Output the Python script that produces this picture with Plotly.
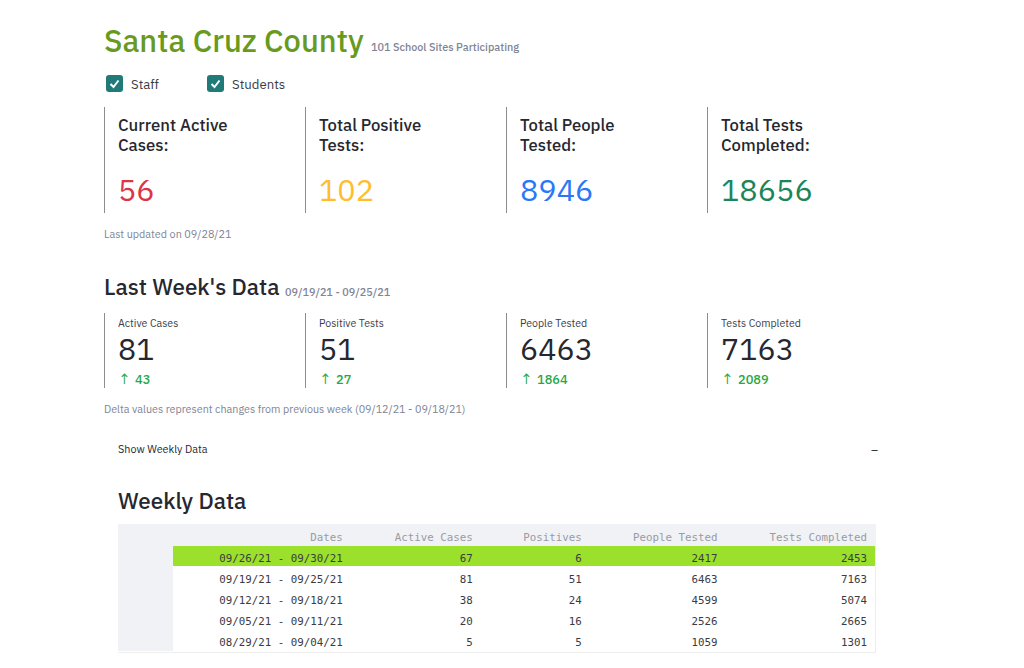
import plotly.graph_objects as go

W, H = 1024, 668

# --- data ---
title = "Santa Cruz County"
subtitle = "101 School Sites Participating"
filters = ["Staff", "Students"]
total_labels = [["Current Active", "Cases:"], ["Total Positive", "Tests:"], ["Total People", "Tested:"], ["Total Tests", "Completed:"]]
total_values = ["56", "102", "8946", "18656"]
total_colors = ["#dc3545", "#ffbd2e", "#2b78f6", "#1c8558"]
week_labels = ["Active Cases", "Positive Tests", "People Tested", "Tests Completed"]
week_values = ["81", "51", "6463", "7163"]
week_deltas = ["43", "27", "1864", "2089"]

table_header = ["", "Dates", "Active Cases", "Positives", "People Tested", "Tests Completed"]
dates = ["09/26/21 - 09/30/21", "09/19/21 - 09/25/21", "09/12/21 - 09/18/21", "09/05/21 - 09/11/21", "08/29/21 - 09/04/21"]
active_cases = [67, 81, 38, 20, 5]
positives = [6, 51, 24, 16, 5]
people_tested = [2417, 6463, 4599, 2526, 1059]
tests_completed = [2453, 7163, 5074, 2665, 1301]

SANS = "IBM Plex Sans, Noto Sans, sans-serif"
MONO = "DejaVu Sans Mono, monospace"
INK = "#262730"
MUTED = "#808495"
column_x = [104.5, 305.5, 506.5, 707.5]

fig = go.Figure()
row_fill = ["#9be02a", "#ffffff", "#ffffff", "#ffffff", "#ffffff"]
index_fill = ["#f0f2f6"] * 5
fig.add_trace(go.Table(
    domain=dict(x=[118 / W, 875.5 / W], y=[1 - 652 / H, 1 - 524.5 / H]),
    columnwidth=[56, 177, 130, 109, 136, 149.5],
    header=dict(values=table_header, align="right", height=21, fill_color="#f0f2f6",
                line_color="#f0f2f6", font=dict(family=MONO, size=10.8, color="#9a9aa3")),
    cells=dict(values=[[""] * 5, dates, active_cases, positives, people_tested, tests_completed],
               align="right", height=21,
               fill_color=[index_fill] + [row_fill] * 5,
               line_color=[index_fill] + [row_fill] * 5,
               font=dict(family=MONO, size=10.8, color="#3a3b45")),
))

def text(x, y, s, size, color, anchor="left", weight=None, family=SANS):
    fig.add_annotation(xref="paper", yref="paper", x=x / W, y=1 - y / H, text=s, showarrow=False,
                       xanchor=anchor, yanchor="middle", borderpad=0, borderwidth=0,
                       font=dict(family=family, size=size, color=color, weight=weight))

def vline(x, y0, y1):
    fig.add_shape(type="line", xref="paper", yref="paper", x0=x / W, x1=x / W, y0=1 - y0 / H, y1=1 - y1 / H,
                  line=dict(color="#8d8d8d", width=1))

def rounded_box(x0, y0, x1, y1, r):
    pts = [f"M{(x0 + r) / W},{1 - y0 / H}", f"L{(x1 - r) / W},{1 - y0 / H}",
           f"Q{x1 / W},{1 - y0 / H} {x1 / W},{1 - (y0 + r) / H}", f"L{x1 / W},{1 - (y1 - r) / H}",
           f"Q{x1 / W},{1 - y1 / H} {(x1 - r) / W},{1 - y1 / H}", f"L{(x0 + r) / W},{1 - y1 / H}",
           f"Q{x0 / W},{1 - y1 / H} {x0 / W},{1 - (y1 - r) / H}", f"L{x0 / W},{1 - (y0 + r) / H}",
           f"Q{x0 / W},{1 - y0 / H} {(x0 + r) / W},{1 - y0 / H}", "Z"]
    return " ".join(pts)

text(104, 40, title, 30.8, "#689a1e", weight=500)
text(371, 47, subtitle, 10.8, MUTED, weight=500)

for bx, tx, label in zip([106, 207], [131, 232], filters):
    fig.add_shape(type="path", xref="paper", yref="paper", path=rounded_box(bx, 75, bx + 17, 92, 3),
                  fillcolor="#1f7a78", line=dict(width=0))
    p = [(bx + 4.5, 84), (bx + 7.5, 87), (bx + 12.5, 80.5)]
    path = "M" + " L".join(f"{a / W},{1 - b / H}" for a, b in p)
    fig.add_shape(type="path", xref="paper", yref="paper", path=path, line=dict(color="white", width=2))
    text(tx, 83.5, label, 13.2, "#3b3c46")

for x, lab, val, col in zip(column_x, total_labels, total_values, total_colors):
    vline(x, 107, 213)
    text(x + 13, 125, lab[0], 16.7, INK, weight=500)
    text(x + 13, 145, lab[1], 16.7, INK, weight=500)
    text(x + 13, 189, val, 30.6, col)

text(104, 234, "Last updated on 09/28/21", 10.8, MUTED)

text(104, 286.5, "Last Week's Data", 22.4, INK, weight=500)
text(285, 292, "09/19/21 - 09/25/21", 10.8, MUTED, weight=500)

for x, lab, val, d in zip(column_x, week_labels, week_values, week_deltas):
    vline(x, 313, 388)
    text(x + 13, 323, lab, 10.6, "#3b3c46")
    text(x + 13, 348, val, 30.4, INK)
    text(x + 13, 379, "↑", 15, "#28a745")
    text(x + 30, 379.5, d, 12.8, "#28a745", weight=500)

text(104, 409, "Delta values represent changes from previous week (09/12/21 - 09/18/21)", 10.75, MUTED)
text(118, 449, "Show Weekly Data", 10.8, INK)
text(874, 449, "–", 12, INK, anchor="center")
text(118, 500.5, "Weekly Data", 22.4, INK, weight=500)

# light outline around the body of the table
fig.add_shape(type="line", xref="paper", yref="paper", x0=118 / W, x1=876 / W, y0=1 - 652.5 / H, y1=1 - 652.5 / H,
              line=dict(color="#eeeeee", width=1))
fig.add_shape(type="line", xref="paper", yref="paper", x0=875.5 / W, x1=875.5 / W, y0=1 - 546 / H, y1=1 - 652.5 / H,
              line=dict(color="#eeeeee", width=1))

fig.update_xaxes(visible=False)
fig.update_yaxes(visible=False)
fig.update_layout(width=W, height=H, margin=dict(l=0, r=0, t=0, b=0), autosize=False,
                  paper_bgcolor="white", plot_bgcolor="white", showlegend=False)

fig.write_html("out.html", config={"displayModeBar": False},
               post_script="document.body.style.margin='0';")
